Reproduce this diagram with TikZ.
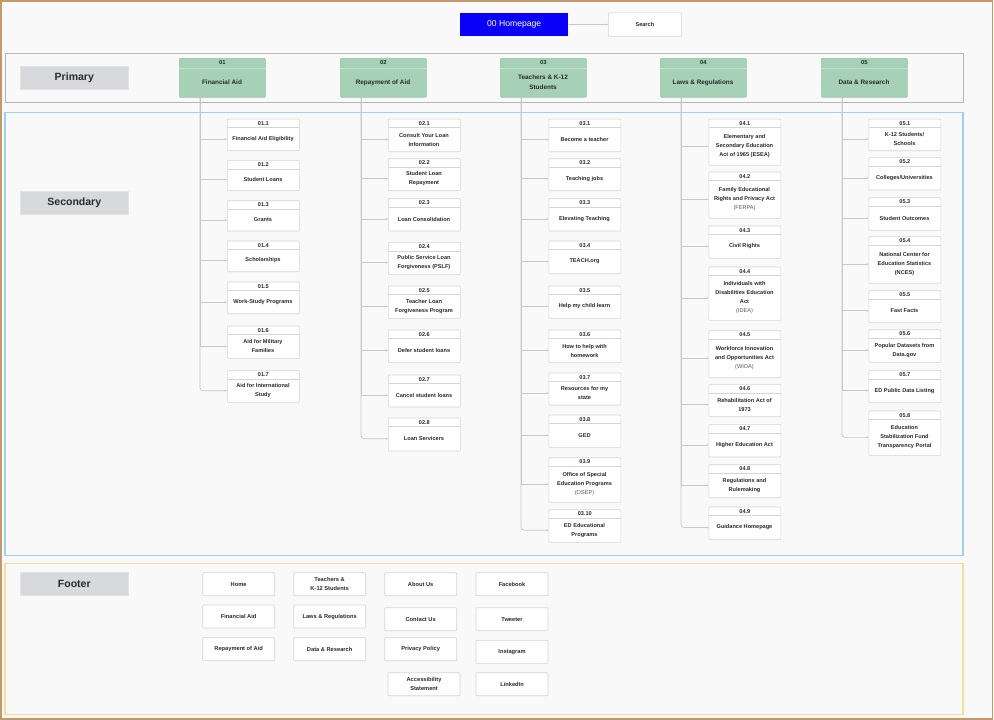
\documentclass[tikz,border=0pt]{standalone}
\usepackage{fontspec}
\setmainfont{Liberation Sans}
\usetikzlibrary{arrows.meta,calc}

\definecolor{pagebg}{HTML}{F9F9F9}
\definecolor{frametan}{HTML}{C49A6C}
\definecolor{primline}{HTML}{B5B5B5}
\definecolor{secline}{HTML}{9ECFF6}
\definecolor{footline}{HTML}{F3DF9C}
\definecolor{tagfill}{HTML}{D8D9DC}
\definecolor{tagline}{HTML}{E2E2E4}
\definecolor{greenfill}{HTML}{A6D1B6}
\definecolor{greenline}{HTML}{97C5A7}
\definecolor{greenrule}{HTML}{C3E2CD}
\definecolor{boxline}{HTML}{D6D6D6}
\definecolor{connline}{HTML}{C8C8C8}
\definecolor{homeblue}{RGB}{10,0,248}
\definecolor{ink}{HTML}{2A2A2A}
\definecolor{inklite}{HTML}{555555}

\newcommand\kidfont{\fontsize{5.6}{9}\selectfont\bfseries}
\newcommand\lite[1]{{\mdseries\color{inklite}#1}}

\tikzset{
  band/.style={line width=1pt},
  tag/.style={anchor=north west, fill=tagfill, draw=tagline, line width=0.6pt,
    minimum width=108pt, minimum height=23pt, inner sep=0pt,
    font=\fontsize{10.5}{12}\selectfont\bfseries, text=ink},
  greenbox/.style={anchor=north west, fill=greenfill, draw=greenline, line width=0.6pt,
    rounded corners=1pt, minimum width=86pt, minimum height=39pt, inner sep=0pt},
  greenrule/.style={draw=greenrule, line width=0.7pt},
  greennum/.style={font=\fontsize{5.8}{7}\selectfont\bfseries, text=ink, inner sep=0pt},
  greentitle/.style={font=\fontsize{6.4}{10}\selectfont\bfseries, text=ink, align=center, inner sep=0pt},
  kidbox/.style={anchor=north west, fill=white, draw=boxline, line width=0.7pt,
    rounded corners=0.8pt, minimum width=72pt, inner sep=0pt},
  kidrule/.style={draw=boxline, line width=0.6pt},
  kidnum/.style={font=\kidfont, text=ink, inner sep=0pt},
  kidtxt/.style={font=\kidfont, text=ink, align=center, inner sep=0pt},
  conn/.style={draw=connline, line width=0.7pt, -{Stealth[length=2pt,width=2pt]}},
  footbox/.style={anchor=north west, fill=white, draw=boxline, line width=0.7pt,
    rounded corners=0.8pt, minimum width=72pt, minimum height=23pt, inner sep=0pt,
    font=\fontsize{5.7}{9}\selectfont\bfseries, text=ink, align=center},
}

% #1 name, #2 left, #3 top, #4 bottom, #5 number, #6 title
\newcommand\kid[6]{%
  \node[kidbox, minimum height={#4-#3}] (#1) at (#2,#3) {};
  \draw[kidrule] ([yshift=-9pt]#1.north west) -- ([yshift=-9pt]#1.north east);
  \node[kidnum] (#1n) at ([yshift=-4.6pt]#1.north) {#5};
  \node[kidtxt] (#1t) at ({#2+36},{(#3+9+#4)/2}) {#6};
}

\begin{document}
\begin{tikzpicture}[x=1pt,y=-1pt]
\useasboundingbox (0,0) rectangle (994,720);
\fill[pagebg] (0,0) rectangle (994,720);
\draw[frametan, line width=1.6pt] (0.8,0.8) rectangle (992.6,719.2);

% bands
\draw[band, draw=primline] (5,53) rectangle (963,102);
\draw[band, draw=secline, line width=1.2pt] (5,112.5) rectangle (963,555.7);
\draw[band, draw=footline, line width=1.2pt] (5,563.3) rectangle (963,714.3);

\node[tag] (tagp) at (20,66) {Primary};
\node[tag] (tags) at (20,191) {Secondary};
\node[tag] (tagf) at (20,572.3) {Footer};

% homepage and search
\node[anchor=north west, fill=homeblue, minimum width=108pt, minimum height=23.5pt, inner sep=0pt,
  font=\fontsize{8.6}{10}\selectfont, text=white] (home) at (460,12.5) {00 Homepage};
\node[anchor=north west, fill=white, draw=boxline, line width=0.7pt, rounded corners=0.8pt,
  minimum width=73pt, minimum height=23.5pt, inner sep=0pt,
  font=\fontsize{5.6}{7}\selectfont\bfseries, text=ink] (search) at (608,12.5) {Search};
\draw[conn] (home) -- (search);

% primary sections
\foreach \nm/\x/\num in {g1/179/01, g2/340/02, g3/500/03, g4/660/04, g5/821/05}{
  \node[greenbox] (\nm) at (\x,58) {};
  \draw[greenrule] ([yshift=-10pt]\nm.north west) -- ([yshift=-10pt]\nm.north east);
  \node[greennum] (\nm n) at ([yshift=-5pt]\nm.north) {\num};
  \coordinate (\nm trunk) at ([xshift=21pt]\nm.south west);
}
\node[greentitle] (g1t) at (222,82.5) {Financial Aid};
\node[greentitle] (g2t) at (383,82.5) {Repayment of Aid};
\node[greentitle] (g3t) at (543,82.5) {Teachers \& K-12\\Students};
\node[greentitle] (g4t) at (703,82.5) {Laws \& Regulations};
\node[greentitle] (g5t) at (864,82.5) {Data \& Research};

% 01 Financial Aid
\kid{k11}{227}{118.7}{150.3}{01.1}{Financial Aid Eligibility}
\kid{k12}{227}{160}{190.3}{01.2}{Student Loans}
\kid{k13}{227}{200.3}{230.7}{01.3}{Grants}
\kid{k14}{227}{240.7}{271.3}{01.4}{Scholarships}
\kid{k15}{227}{281.7}{313.3}{01.5}{Work-Study Programs}
\kid{k16}{227}{325.7}{358}{01.6}{Aid for Military\\Families}
\kid{k17}{227}{370.3}{402.3}{01.7}{Aid for International\\Study}

% 02 Repayment of Aid
\kid{k21}{388}{118.7}{151.3}{02.1}{Consult Your Loan\\Information}
\kid{k22}{388}{158.3}{190.3}{02.2}{Student Loan\\Repayment}
\kid{k23}{388}{198.3}{230.7}{02.3}{Loan Consolidation}
\kid{k24}{388}{242}{274.3}{02.4}{Public Service Loan\\Forgiveness (PSLF)}
\kid{k25}{388}{285.7}{318}{02.5}{Teacher Loan\\Forgiveness Program}
\kid{k26}{388}{329.7}{362.3}{02.6}{Defer student loans}
\kid{k27}{388}{374.7}{406.7}{02.7}{Cancel student loans}
\kid{k28}{388}{417.7}{450.7}{02.8}{Loan Servicers}

% 03 Teachers & K-12 Students
\kid{k31}{548.5}{118.7}{151.3}{03.1}{Become a teacher}
\kid{k32}{548.5}{158.3}{190.3}{03.2}{Teaching jobs}
\kid{k33}{548.5}{198.3}{230.7}{03.3}{Elevating Teaching}
\kid{k34}{548.5}{240.7}{273.3}{03.4}{TEACH.org}
\kid{k35}{548.5}{285.7}{318}{03.5}{Help my child learn}
\kid{k36}{548.5}{329.7}{362.3}{03.6}{How to help with\\homework}
\kid{k37}{548.5}{372.7}{404.7}{03.7}{Resources for my\\state}
\kid{k38}{548.5}{414.7}{447}{03.8}{GED}
\kid{k39}{548.5}{457.3}{502}{03.9}{Office of Special\\Education Programs\\\lite{(OSEP)}}
\kid{k310}{548.5}{509.3}{542}{03.10}{ED Educational\\Programs}

% 04 Laws & Regulations
\kid{k41}{708.5}{118.7}{165}{04.1}{Elementary and\\Secondary Education\\Act of 1965 (ESEA)}
\kid{k42}{708.5}{171.7}{218}{04.2}{Family Educational\\Rights and Privacy Act\\\lite{(FERPA)}}
\kid{k43}{708.5}{225.7}{258}{04.3}{Civil Rights}
\kid{k44}{708.5}{266.7}{320}{04.4}{Individuals with\\Disabilities Education\\Act\\\lite{(IDEA)}}
\kid{k45}{708.5}{330.3}{377.3}{04.5}{Workforce Innovation\\and Opportunities Act\\\lite{(WIOA)}}
\kid{k46}{708.5}{384}{416.3}{04.6}{Rehabilitation Act of\\1973}
\kid{k47}{708.5}{424}{456.7}{04.7}{Higher Education Act}
\kid{k48}{708.5}{464.3}{497.3}{04.8}{Regulations and\\Rulemaking}
\kid{k49}{708.5}{506.7}{539.3}{04.9}{Guidance Homepage}

% 05 Data & Research
\kid{k51}{868.5}{118.7}{150.3}{05.1}{K-12 Students/\\Schools}
\kid{k52}{868.5}{157}{189.7}{05.2}{Colleges/Universities}
\kid{k53}{868.5}{197.3}{230}{05.3}{Student Outcomes}
\kid{k54}{868.5}{236.3}{283}{05.4}{National Center for\\Education Statistics\\(NCES)}
\kid{k55}{868.5}{290.3}{322.3}{05.5}{Fast Facts}
\kid{k56}{868.5}{329.3}{362}{05.6}{Popular Datasets from\\Data.gov}
\kid{k57}{868.5}{370}{402.3}{05.7}{ED Public Data Listing}
\kid{k58}{868.5}{410.7}{455}{05.8}{Education\\Stabilization Fund\\Transparency Portal}

% tree connectors: trunk down, then across to each page
\foreach \k in {11,12,13,14,15,16}{\draw[conn] (g1trunk) |- (k\k t -| k\k.west);}
\draw[conn, rounded corners=3pt] (g1trunk) |- (k17t -| k17.west);
\foreach \k in {21,22,23,24,25,26,27}{\draw[conn] (g2trunk) |- (k\k t -| k\k.west);}
\draw[conn, rounded corners=3pt] (g2trunk) |- (k28t -| k28.west);
\foreach \k in {31,32,33,34,35,36,37,38,39}{\draw[conn] (g3trunk) |- (k\k t -| k\k.west);}
\draw[conn, rounded corners=3pt] (g3trunk) |- (k310t -| k310.west);
\foreach \k in {41,42,43,44,45,46,47,48}{\draw[conn] (g4trunk) |- (k\k t -| k\k.west);}
\draw[conn, rounded corners=3pt] (g4trunk) |- (k49t -| k49.west);
\foreach \k in {51,52,53,54,55,56,57}{\draw[conn] (g5trunk) |- (k\k t -| k\k.west);}
\draw[conn, rounded corners=3pt] (g5trunk) |- (k58t -| k58.west);

% footer links
\node[footbox] (f11) at (202.3,572.3) {Home};
\node[footbox] (f12) at (202.3,604.7) {Financial Aid};
\node[footbox] (f13) at (202.3,637.3) {Repayment of Aid};
\node[footbox] (f21) at (293.3,572.3) {Teachers \&\\K-12 Students};
\node[footbox] (f22) at (293.3,604.7) {Laws \& Regulations};
\node[footbox] (f23) at (293.3,637.3) {Data \& Research};
\node[footbox] (f31) at (384.3,572.3) {About Us};
\node[footbox] (f32) at (384.3,607.3) {Contact Us};
\node[footbox] (f33) at (384.3,637.3) {Privacy Policy};
\node[footbox] (f34) at (387.7,672.3) {Accessibility\\Statement};
\node[footbox] (f41) at (475.7,572.3) {Facebook};
\node[footbox] (f42) at (475.7,607.3) {Tweeter};
\node[footbox] (f43) at (475.7,640) {Instagram};
\node[footbox] (f44) at (475.7,672.3) {LinkedIn};
\end{tikzpicture}
\end{document}
